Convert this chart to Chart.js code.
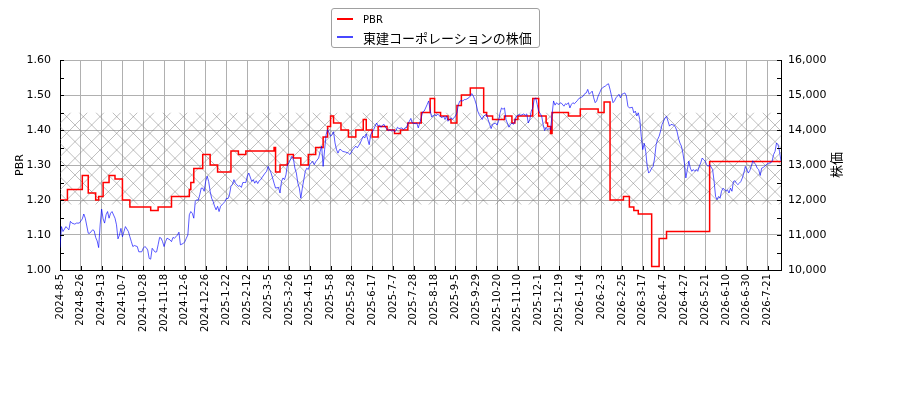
<!DOCTYPE html>
<html>
<head>
<meta charset="utf-8">
<script src="https://cdn.jsdelivr.net/npm/chart.js@4.4.1/dist/chart.umd.min.js"></script>
<style>
  html, body { margin: 0; padding: 0; background: #fff; }
  #wrap { position: relative; width: 900px; height: 400px; }
  #legend {
    position: absolute; left: 331px; top: 8px; width: 207px; height: 38px;
    border: 1px solid #a0a0a0; border-radius: 3px; background: rgba(255,255,255,0.85);
  }
  #legend .row { position: absolute; left: 0; height: 18px; display: flex; align-items: center; white-space: nowrap; }
  #legend .swatch { display: inline-block; width: 16px; margin-left: 5px; margin-right: 10px; }
</style>
</head>
<body>
<div id="wrap">
  <canvas id="chart" width="900" height="400"></canvas>
  <div id="legend"></div>
</div>
<script>
// x tick labels, one every 14 trading days starting at day 0
const tickLabels = [
  '2024-8-5', '2024-8-26', '2024-9-13', '2024-10-7', '2024-10-28', '2024-11-18', '2024-12-6',
  '2024-12-26', '2025-1-22', '2025-2-12', '2025-3-5', '2025-3-26', '2025-4-15', '2025-5-8',
  '2025-5-28', '2025-6-17', '2025-7-7', '2025-7-28', '2025-8-18', '2025-9-5', '2025-9-29',
  '2025-10-20', '2025-11-10', '2025-12-1', '2025-12-19', '2026-1-14', '2026-2-3', '2026-2-25',
  '2026-3-17', '2026-4-7', '2026-4-27', '2026-5-21', '2026-6-10', '2026-6-30', '2026-7-21'
];
const tickStep = 14;
const lastDay = 485;

// PBR band (hatched)
const bandLow = 1.187;
const bandHigh = 1.449;

// PBR: value changes at these trading days
const pbrDays = [
  0, 5, 15, 19, 24, 26, 29, 33, 37, 42, 47, 61, 66, 75, 87, 88, 90, 96, 101, 106,
  115, 120, 125, 144, 145, 148, 153, 157, 162, 167, 172, 177, 180, 182, 184, 189, 194, 199, 204, 206,
  210, 214, 220, 225, 229, 234, 243, 249, 252, 256, 261, 263, 267, 270, 276, 285, 287, 291, 299, 304,
  306, 308, 318, 322, 327, 328, 330, 331, 342, 350, 362, 366, 370, 379, 383, 386, 389, 398, 403, 408,
  437, 485
];
const pbrValues = [
  1.20, 1.23, 1.27, 1.22, 1.20, 1.21, 1.25, 1.27, 1.26, 1.20, 1.18, 1.17, 1.18, 1.21, 1.23, 1.25, 1.29, 1.33, 1.30, 1.28,
  1.34, 1.33, 1.34, 1.35, 1.28, 1.30, 1.33, 1.32, 1.30, 1.33, 1.35, 1.38, 1.41, 1.44, 1.42, 1.40, 1.38, 1.40, 1.43, 1.40,
  1.38, 1.41, 1.40, 1.39, 1.40, 1.42, 1.45, 1.49, 1.45, 1.44, 1.43, 1.42, 1.47, 1.50, 1.52, 1.45, 1.44, 1.43, 1.44, 1.42,
  1.43, 1.44, 1.49, 1.44, 1.42, 1.41, 1.39, 1.45, 1.44, 1.46, 1.45, 1.48, 1.20, 1.21, 1.18, 1.17, 1.16, 1.01, 1.09, 1.11,
  1.31, 1.31
];

// share price (yen) by trading day
const priceDays = [
  0, 1, 2, 4, 5, 6, 7, 8, 10, 11, 13, 15, 16, 17, 19, 20, 22, 23, 24, 25,
  26, 27, 28, 29, 30, 31, 32, 33, 34, 35, 37, 38, 39, 40, 41, 42, 43, 44, 46, 47,
  48, 49, 50, 52, 53, 55, 56, 57, 58, 59, 60, 61, 62, 64, 65, 66, 67, 68, 69, 70,
  71, 72, 74, 75, 76, 77, 78, 79, 80, 81, 83, 84, 85, 86, 87, 88, 89, 90, 91, 92,
  93, 94, 95, 96, 97, 98, 99, 100, 101, 102, 103, 104, 105, 106, 107, 108, 110, 111, 112, 113,
  114, 115, 116, 117, 118, 120, 121, 122, 123, 124, 125, 126, 127, 129, 130, 131, 132, 133, 134, 135,
  136, 138, 139, 140, 141, 142, 143, 144, 145, 147, 148, 149, 150, 151, 152, 153, 154, 156, 157, 158,
  159, 160, 161, 162, 163, 164, 165, 166, 167, 168, 169, 170, 171, 172, 174, 175, 176, 177, 178, 179,
  180, 181, 182, 183, 184, 185, 186, 187, 188, 189, 190, 192, 194, 195, 196, 197, 198, 199, 200, 202,
  203, 204, 205, 206, 207, 208, 209, 211, 212, 213, 214, 215, 216, 217, 218, 219, 221, 222, 223, 224,
  225, 226, 227, 228, 230, 231, 232, 233, 234, 235, 236, 237, 239, 240, 241, 242, 243, 244, 245, 247,
  248, 249, 250, 252, 253, 254, 255, 257, 258, 259, 260, 261, 262, 263, 264, 266, 267, 268, 269, 270,
  271, 272, 273, 275, 276, 277, 278, 279, 280, 281, 282, 284, 285, 286, 287, 288, 289, 290, 291, 293,
  294, 295, 296, 297, 298, 299, 300, 302, 303, 304, 305, 306, 307, 308, 309, 310, 312, 313, 314, 315,
  316, 317, 318, 319, 320, 321, 322, 324, 325, 326, 327, 328, 329, 330, 331, 332, 333, 334, 335, 336,
  337, 339, 340, 341, 342, 343, 344, 345, 346, 348, 349, 350, 351, 352, 353, 354, 355, 356, 358, 359,
  360, 361, 362, 363, 364, 365, 367, 368, 369, 370, 371, 372, 373, 374, 375, 376, 377, 378, 379, 380,
  381, 382, 383, 385, 386, 387, 388, 389, 390, 391, 392, 393, 394, 395, 396, 397, 398, 399, 400, 401,
  402, 403, 404, 405, 406, 407, 408, 409, 410, 411, 413, 414, 415, 416, 417, 418, 419, 420, 421, 422,
  423, 424, 425, 426, 427, 428, 429, 430, 431, 432, 433, 434, 435, 436, 437, 439, 440, 441, 442, 443,
  444, 445, 446, 448, 449, 450, 451, 452, 453, 454, 455, 456, 457, 458, 459, 460, 461, 462, 463, 464,
  465, 466, 468, 469, 470, 471, 472, 473, 474, 475, 477, 478, 479, 480, 481, 482, 483, 484, 485
];
const priceValues = [
  10640, 11240, 11100, 11240, 11190, 11150, 11390, 11340, 11310, 11340, 11340, 11460, 11600, 11480, 11050, 11050, 11150, 11120, 10930, 10830,
  10640, 11290, 11740, 11460, 11340, 11580, 11670, 11480, 11620, 11670, 11480, 11290, 10890, 11000, 11190, 10950, 11100, 11240, 11100, 10950,
  10810, 10670, 10700, 10670, 10520, 10520, 10620, 10670, 10640, 10570, 10330, 10310, 10620, 10510, 10520, 10720, 10930, 10910, 10810, 10670,
  10810, 10910, 10860, 10810, 10930, 10910, 10950, 11000, 11080, 10720, 10760, 10810, 10910, 11000, 11580, 11670, 11620, 11480, 11960, 12010,
  11990, 12150, 12340, 12340, 12250, 12530, 12680, 12530, 12250, 12050, 11960, 11820, 11720, 11820, 11670, 11820, 11910, 11960, 12050, 12040,
  12150, 12390, 12440, 12580, 12480, 12390, 12410, 12360, 12500, 12500, 12500, 12680, 12770, 12530, 12580, 12480, 12550, 12470, 12550, 12580,
  12650, 12770, 12820, 12960, 12870, 12770, 12630, 12480, 12340, 12360, 12200, 12530, 12630, 12580, 12720, 13010, 13060, 13250, 13180, 12910,
  12770, 12480, 12340, 12050, 12340, 12580, 12820, 12910, 12870, 13010, 13060, 13110, 13010, 13090, 13200, 13390, 13540, 12960, 13440, 13870,
  14010, 13920, 13820, 13870, 13950, 13630, 13440, 13340, 13440, 13440, 13390, 13370, 13340, 13300, 13370, 13440, 13490, 13540, 13490, 13630,
  13730, 13820, 13770, 13890, 13730, 13580, 13870, 14010, 14110, 14200, 14110, 14140, 14080, 14140, 14160, 14060, 13980, 14010, 13970, 14010,
  13950, 13980, 14080, 14040, 14060, 14010, 14060, 14060, 14180, 14250, 14330, 14200, 14180, 14200, 14060, 14200, 14350, 14520, 14540, 14730,
  14830, 14560, 14370, 14440, 14400, 14460, 14410, 14350, 14400, 14300, 14400, 14250, 14300, 14350, 14300, 14400, 14490, 14730, 14830, 14840,
  14830, 14870, 14870, 14920, 14970, 15040, 14970, 14870, 14730, 14540, 14440, 14300, 14400, 14420, 14440, 14300, 14160, 14040, 14160, 14200,
  14140, 14250, 14490, 14630, 14590, 14630, 14300, 14080, 14160, 14200, 14160, 14250, 14400, 14420, 14440, 14420, 14460, 14420, 14460, 14200,
  14300, 14540, 14630, 14870, 14920, 14730, 14540, 14400, 14160, 13980, 14080, 14010, 14040, 14010, 14440, 14830, 14710, 14780, 14730, 14750,
  14780, 14680, 14750, 14730, 14780, 14630, 14730, 14780, 14750, 14840, 14900, 14920, 14940, 14970, 15040, 15060, 15160, 15020, 15110, 14920,
  14780, 14830, 14970, 15060, 15160, 15210, 15260, 15300, 15320, 15160, 14970, 14780, 14830, 14920, 14970, 15020, 14920, 15020, 15040, 15060,
  14970, 14680, 14630, 14650, 14490, 14540, 14400, 14490, 14300, 13820, 13440, 13620, 13390, 12960, 12770, 12820, 12910, 12960, 13200, 13580,
  13730, 13820, 13970, 14160, 14250, 14350, 14390, 14250, 14110, 14160, 14140, 14080, 13970, 13770, 13630, 13540, 13340, 13060, 12630, 12870,
  13110, 12910, 12820, 12870, 12820, 12870, 12820, 12960, 13060, 13200, 13150, 13110, 13010, 12960, 13010, 12870, 12530, 12100, 12010, 12100,
  12050, 12250, 12340, 12250, 12290, 12200, 12340, 12250, 12530, 12550, 12480, 12440, 12480, 12530, 12630, 12770, 12960, 12870, 12770, 12840,
  12960, 13120, 13010, 12910, 12870, 12700, 12910, 12930, 12960, 13010, 13060, 13060, 13110, 13300, 13390, 13630, 13580, 13390, 13110
];

const seriesNames = ['PBR', '東建コーポレーションの株価'];
const seriesColors = ['#ff0000', 'rgba(0,0,255,0.72)'];

// hatched band between bandLow and bandHigh on the PBR axis
const bandHatch = {
  id: 'bandHatch',
  beforeDatasetsDraw(chart) {
    const { ctx, chartArea: a, scales } = chart;
    const top = scales.y.getPixelForValue(bandHigh);
    const bottom = scales.y.getPixelForValue(bandLow);
    const W = chart.width, H = chart.height, step = 100 / 6;
    ctx.save();
    ctx.beginPath();
    ctx.rect(a.left, top, a.right - a.left, bottom - top);
    ctx.clip();
    ctx.strokeStyle = 'rgba(120,120,120,0.6)';
    ctx.lineWidth = 0.8;
    ctx.beginPath();
    for (let c = -H; c < W + H; c += step) {
      ctx.moveTo(c, H); ctx.lineTo(c + H, 0);
      ctx.moveTo(c, H); ctx.lineTo(c - H, 0);
    }
    ctx.stroke();
    ctx.restore();
  }
};

// inward tick marks, like the original axes
const inwardTicks = {
  id: 'inwardTicks',
  afterDatasetsDraw(chart) {
    const { ctx, chartArea: a, scales } = chart;
    const len = 4;
    ctx.save();
    ctx.strokeStyle = '#000';
    ctx.lineWidth = 1;
    ctx.beginPath();
    for (let v = 100; v <= 160; v += 5) {
      const y = Math.round(scales.y.getPixelForValue(v / 100)) + 0.5;
      ctx.moveTo(a.left, y); ctx.lineTo(a.left + len, y);
    }
    for (let v = 10000; v <= 16000; v += 500) {
      const y = Math.round(scales.y2.getPixelForValue(v)) + 0.5;
      ctx.moveTo(a.right - len, y); ctx.lineTo(a.right, y);
    }
    scales.x.ticks.forEach(t => {
      const x = Math.round(scales.x.getPixelForValue(t.value)) + 0.5;
      ctx.moveTo(x, a.bottom); ctx.lineTo(x, a.bottom - len);
    });
    ctx.stroke();
    ctx.restore();
  }
};

// both axis titles read bottom-to-top
const axisTitles = {
  id: 'axisTitles',
  afterDraw(chart) {
    const { ctx, chartArea: a } = chart;
    const midY = (a.top + a.bottom) / 2;
    ctx.save();
    ctx.fillStyle = '#000';
    ctx.textAlign = 'center';
    ctx.textBaseline = 'middle';
    ctx.translate(20, midY);
    ctx.rotate(-Math.PI / 2);
    ctx.font = '11px "DejaVu Sans"';
    ctx.fillText('PBR', 0, 0);
    ctx.restore();
    ctx.save();
    ctx.fillStyle = '#000';
    ctx.textAlign = 'center';
    ctx.textBaseline = 'middle';
    ctx.translate(836, midY);
    ctx.rotate(-Math.PI / 2);
    ctx.font = '13px "Noto Sans CJK JP"';
    ctx.fillText('株価', 0, 0);
    ctx.restore();
  }
};

Chart.defaults.font.family = '"DejaVu Sans", sans-serif';
Chart.defaults.color = '#000';

const ctx = document.getElementById('chart').getContext('2d');
new Chart(ctx, {
  type: 'line',
  data: {
    datasets: [{
      label: seriesNames[0],
      data: pbrDays.map((d, i) => ({ x: d, y: pbrValues[i] })),
      yAxisID: 'y',
      borderColor: seriesColors[0],
      borderWidth: 1.5,
      stepped: 'before',
      pointRadius: 0,
      order: 2
    }, {
      label: seriesNames[1],
      data: priceDays.map((d, i) => ({ x: d, y: priceValues[i] })),
      yAxisID: 'y2',
      borderColor: seriesColors[1],
      borderWidth: 0.9,
      pointRadius: 0,
      tension: 0,
      order: 1
    }]
  },
  options: {
    responsive: false,
    animation: false,
    layout: { padding: { top: 60 } },
    plugins: { legend: { display: false }, tooltip: { enabled: false } },
    scales: {
      x: {
        type: 'linear',
        min: 0,
        max: lastDay,
        grid: { color: '#b0b0b0', lineWidth: 1, drawTicks: false },
        border: { display: true, color: '#000', width: 1 },
        ticks: {
          stepSize: tickStep,
          includeBounds: false,
          autoSkip: false,
          maxRotation: 90,
          minRotation: 90,
          padding: 4,
          font: { size: 10 },
          callback: v => tickLabels[Math.round(v / tickStep)] || ''
        },
        afterFit: s => { s.height = 130; }
      },
      y: {
        position: 'left',
        min: 1.0,
        max: 1.6,
        grid: { color: '#b0b0b0', lineWidth: 1, drawTicks: false },
        border: { display: true, color: '#000', width: 1 },
        ticks: { stepSize: 0.1, padding: 9, font: { size: 11 }, callback: v => v.toFixed(2) },
        afterFit: s => { s.width = 60; }
      },
      y2: {
        position: 'right',
        min: 10000,
        max: 16000,
        grid: { drawOnChartArea: false, drawTicks: false },
        border: { display: true, color: '#000', width: 1 },
        ticks: { stepSize: 1000, padding: 7, font: { size: 11 } },
        afterFit: s => { s.width = 119; }
      }
    }
  },
  plugins: [bandHatch, inwardTicks, axisTitles]
});

// legend box built from the series names and colours
const legend = document.getElementById('legend');
const rowFonts = ['10px "DejaVu Sans"', '13px "Noto Sans CJK JP"'];
const rowTops = [1, 19];
seriesNames.forEach((name, i) => {
  const row = document.createElement('div');
  row.className = 'row';
  row.style.top = rowTops[i] + 'px';
  const sw = document.createElement('span');
  sw.className = 'swatch';
  sw.style.borderTop = '2px solid ' + seriesColors[i];
  const txt = document.createElement('span');
  txt.textContent = name;
  txt.style.font = rowFonts[i];
  row.appendChild(sw);
  row.appendChild(txt);
  legend.appendChild(row);
});
</script>
</body>
</html>
